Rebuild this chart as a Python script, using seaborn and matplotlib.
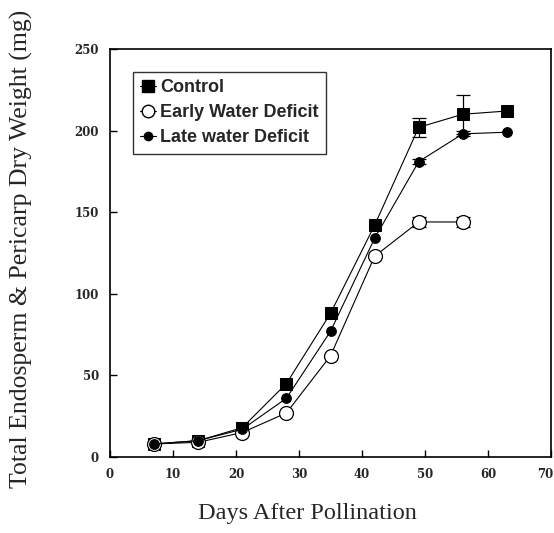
import matplotlib
matplotlib.use("Agg")
import matplotlib.pyplot as plt
import matplotlib.transforms as mtransforms
import seaborn as sns
import pandas as pd
import numpy as np
from matplotlib.lines import Line2D

days_control = [7, 14, 21, 28, 35, 42, 49, 56, 63]
control = [8, 10, 18, 45, 88, 142, 202, 210, 212]
control_err = [0, 0, 0, 0, 0, 0, 6, 12, 0]

days_early = [7, 14, 21, 28, 35, 42, 49, 56]
early = [8, 9, 15, 27, 62, 123, 144, 144]
early_err = [0, 0, 0, 0, 0, 0, 3, 3]

days_late = [7, 14, 21, 28, 35, 42, 49, 56, 63]
late = [8, 10, 17, 36, 77, 134, 181, 198, 199]
late_err = [0, 0, 0, 0, 0, 0, 1.5, 1.5, 0]

labels = ["Control", "Early Water Deficit", "Late water Deficit"]
x_ticks = [0, 10, 20, 30, 40, 50, 60, 70]
y_ticks = [0, 50, 100, 150, 200, 250]

sns.set_theme(style="white")
plt.rcParams["font.family"] = ["DejaVu Serif"]

fig = plt.figure(figsize=(5.54, 5.33), dpi=100)
ax = fig.add_axes([0.1986, 0.1426, 0.7960, 0.7655])

series = [
    (days_control, control, control_err, dict(marker="s", markersize=9, markerfacecolor="black", markeredgecolor="black")),
    (days_early, early, early_err, dict(marker="o", markersize=10, markerfacecolor="white", markeredgecolor="black", markeredgewidth=0.9)),
    (days_late, late, late_err, dict(marker="o", markersize=7, markerfacecolor="black", markeredgecolor="black")),
]

for d, v, e, mk in series:
    df = pd.DataFrame({"day": d, "weight": v})
    sns.lineplot(data=df, x="day", y="weight", ax=ax, color="black", linewidth=0.8,
                 legend=False, **mk)
    d_arr = np.array(d)
    v_arr = np.array(v)
    e_arr = np.array(e)
    m = e_arr > 0
    ax.errorbar(d_arr[m], v_arr[m], yerr=e_arr[m], fmt="none", ecolor="black",
                elinewidth=0.9, capsize=5, capthick=0.9, zorder=1)

ax.set_xlim(0, 70)
ax.set_ylim(0, 250)
ax.set_xticks(x_ticks)
ax.set_yticks(y_ticks)
ax.set_xticklabels([str(t) for t in x_ticks], fontsize=8.5, fontweight="bold")
ax.set_yticklabels([str(t) for t in y_ticks], fontsize=8.5, fontweight="bold")
ax.tick_params(axis="both", direction="in", length=5, width=1, color="black",
               pad=8, bottom=True, left=True)
for s in ax.spines.values():
    s.set_color("black")
    s.set_linewidth(1.2)

# nudge last x tick label so it stays inside the figure, as in the reference
last = ax.get_xticklabels()[-1]
last.set_transform(last.get_transform() + mtransforms.ScaledTranslation(-6 / 100, 0, fig.dpi_scale_trans))

ax.set_xlabel("Days After Pollination", fontsize=17.5, family="Liberation Serif")
ax.xaxis.set_label_coords(0.447, -0.113)
ax.set_ylabel("Total Endosperm & Pericarp Dry Weight (mg)", fontsize=18.5,
              family="Liberation Serif")
ax.yaxis.set_label_coords(-0.175, 0.51)

handles = [
    Line2D([0], [0], color="black", lw=0.8, marker="s", markersize=9, markerfacecolor="black"),
    Line2D([0], [0], color="black", lw=0.8, marker="o", markersize=9, markerfacecolor="white", markeredgecolor="black"),
    Line2D([0], [0], color="black", lw=0.8, marker="o", markersize=6, markerfacecolor="black"),
]
leg = ax.legend(handles, labels, loc="upper left", bbox_to_anchor=(0.052, 0.944),
                borderaxespad=0, handlelength=0.9, handletextpad=0.2, frameon=True,
                fancybox=False, prop={"family": "Liberation Sans", "weight": "bold", "size": 13},
                labelspacing=0.45, borderpad=0.4)
leg.get_frame().set_edgecolor("black")
leg.get_frame().set_linewidth(1.0)

fig.savefig("out.png", dpi=100, facecolor="white")
